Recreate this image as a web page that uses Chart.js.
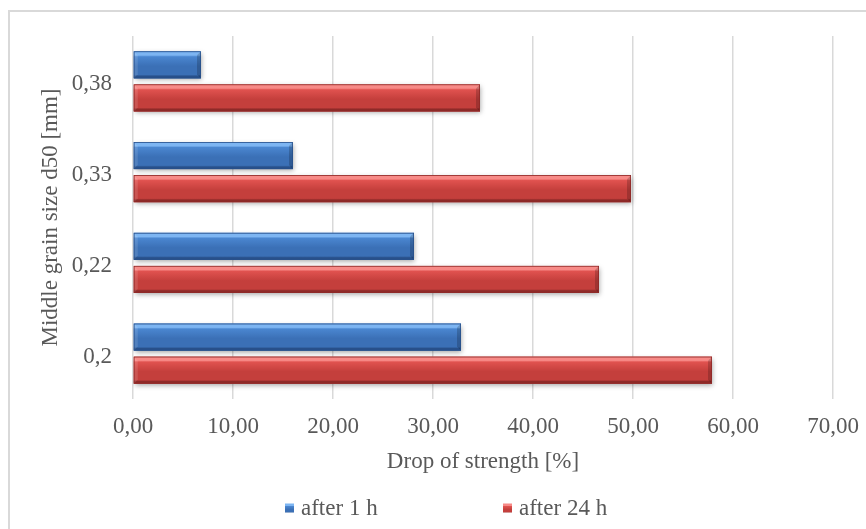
<!DOCTYPE html>
<html>
<head>
<meta charset="utf-8">
<script src="https://cdn.jsdelivr.net/npm/chart.js@4.4.0/dist/chart.umd.min.js"></script>
<style>
  html, body { margin: 0; padding: 0; background: #ffffff; }
  #frame { position: absolute; left: 8px; top: 10px; width: 900px; height: 560px; border: 2px solid #d9d9d9; box-sizing: border-box; }
  #c { position: absolute; left: 0; top: 0; }
</style>
</head>
<body>
<div id="frame"></div>
<canvas id="c" width="866" height="529"></canvas>
<script>
const categories = ['0,38', '0,33', '0,22', '0,2'];
const seriesNames = ['after 1 h', 'after 24 h'];
const after1h = [6.8, 16.0, 28.1, 32.8];
const after24h = [34.7, 49.8, 46.6, 57.9];
const xTickLabels = ['0,00', '10,00', '20,00', '30,00', '40,00', '50,00', '60,00', '70,00'];

const FONT = 'Liberation Serif';
const TXT = '#595959';

const palettes = [
  { light: '#7db5f2', base: '#4a86d0', mid: '#3b70b6', dark: '#28508a', base0: '#3d74bd' },
  { light: '#f78a87', base: '#e0524f', mid: '#c43f3c', dark: '#8e2a28', base0: '#c8433f' }
];

function barGradient(ctx, top, bottom, p) {
  const g = ctx.createLinearGradient(0, top, 0, bottom);
  g.addColorStop(0, p.light);
  g.addColorStop(0.14, p.light);
  g.addColorStop(0.2, p.base);
  g.addColorStop(0.55, p.mid);
  g.addColorStop(0.86, p.mid);
  g.addColorStop(0.92, p.dark);
  g.addColorStop(1, p.dark);
  return g;
}

const bevelPlugin = {
  id: 'bevel',
  beforeDatasetDraw(chart, args) {
    const ctx = chart.ctx;
    ctx.save();
    ctx.shadowColor = 'rgba(0,0,0,0.35)';
    ctx.shadowBlur = 5;
    ctx.shadowOffsetX = 1;
    ctx.shadowOffsetY = 2;
  },
  afterDatasetDraw(chart, args) {
    const ctx = chart.ctx;
    ctx.restore();
    const p = palettes[args.index];
    const meta = args.meta;
    meta.data.forEach(el => {
      const pr = el.getProps(['x', 'y', 'base', 'height'], true);
      const top = pr.y - pr.height / 2, bottom = pr.y + pr.height / 2;
      const left = Math.min(pr.base, pr.x), right = Math.max(pr.base, pr.x);
      ctx.save();
      ctx.fillStyle = barGradient(ctx, top, bottom, p);
      ctx.fillRect(left, top, right - left, bottom - top);
      const b = 4;
      ctx.fillStyle = 'rgba(0,0,0,0.18)';
      ctx.beginPath();
      ctx.moveTo(right, top); ctx.lineTo(right - b, top + b); ctx.lineTo(right - b, bottom - b); ctx.lineTo(right, bottom); ctx.closePath();
      ctx.fill();
      ctx.fillStyle = 'rgba(255,255,255,0.12)';
      ctx.beginPath();
      ctx.moveTo(left, top); ctx.lineTo(left + b, top + b); ctx.lineTo(left + b, bottom - b); ctx.lineTo(left, bottom); ctx.closePath();
      ctx.fill();
      ctx.strokeStyle = p.dark;
      ctx.lineWidth = 0.8;
      ctx.strokeRect(left + 0.4, top + 0.4, right - left - 0.8, bottom - top - 0.8);
      ctx.restore();
    });
  }
};

const legendPlugin = {
  id: 'customLegend',
  afterDraw(chart) {
    const ctx = chart.ctx;
    const items = [
      { name: seriesNames[0], boxX: 285, p: palettes[0] },
      { name: seriesNames[1], boxX: 503, p: palettes[1] }
    ];
    const cy = 509;
    ctx.save();
    items.forEach(it => {
      const s = 9;
      const g = barGradient(ctx, cy - s / 2, cy + s / 2, it.p);
      ctx.fillStyle = g;
      ctx.fillRect(it.boxX, cy - s / 2 - 1, s, s);
      ctx.fillStyle = TXT;
      ctx.font = '23px "' + FONT + '"';
      ctx.textBaseline = 'middle';
      ctx.textAlign = 'left';
      ctx.fillText(it.name, it.boxX + 16, cy);
    });
    ctx.restore();
  }
};

new Chart(document.getElementById('c'), {
  type: 'bar',
  data: {
    labels: categories,
    datasets: [
      { label: seriesNames[0], data: after1h, backgroundColor: palettes[0].base0, borderWidth: 0 },
      { label: seriesNames[1], data: after24h, backgroundColor: palettes[1].base0, borderWidth: 0 }
    ]
  },
  options: {
    indexAxis: 'y',
    responsive: false,
    animation: false,
    devicePixelRatio: 1,
    categoryPercentage: 0.728,
    barPercentage: 0.818,
    layout: { padding: { top: 36, left: 0, right: 33, bottom: 0 } },
    plugins: { legend: { display: false }, tooltip: { enabled: false } },
    scales: {
      x: {
        min: 0, max: 70,
        ticks: {
          stepSize: 10,
          padding: 14,
          color: TXT,
          font: { family: FONT, size: 23 },
          callback: (v, i) => xTickLabels[i]
        },
        grid: { color: '#d9d9d9', lineWidth: 1.5, drawTicks: false },
        border: { display: false },
        title: {
          display: true, text: 'Drop of strength [%]', color: TXT,
          font: { family: FONT, size: 23 }, padding: { top: 0, bottom: 53 }
        },
        afterFit: s => { s.height = 130; s.paddingRight = 0; s.paddingLeft = 0; }
      },
      y: {
        ticks: { padding: 21, labelOffset: 3, color: TXT, font: { family: FONT, size: 23 } },
        grid: { display: false, drawTicks: false },
        border: { display: false },
        title: {
          display: true, text: 'Middle grain size d50 [mm]', color: TXT,
          font: { family: FONT, size: 23 }, padding: { top: 37, bottom: 0 }
        },
        afterFit: s => { s.width = 133; s.paddingTop = 0; s.paddingBottom = 0; }
      }
    }
  },
  plugins: [bevelPlugin, legendPlugin]
});
</script>
</body>
</html>
